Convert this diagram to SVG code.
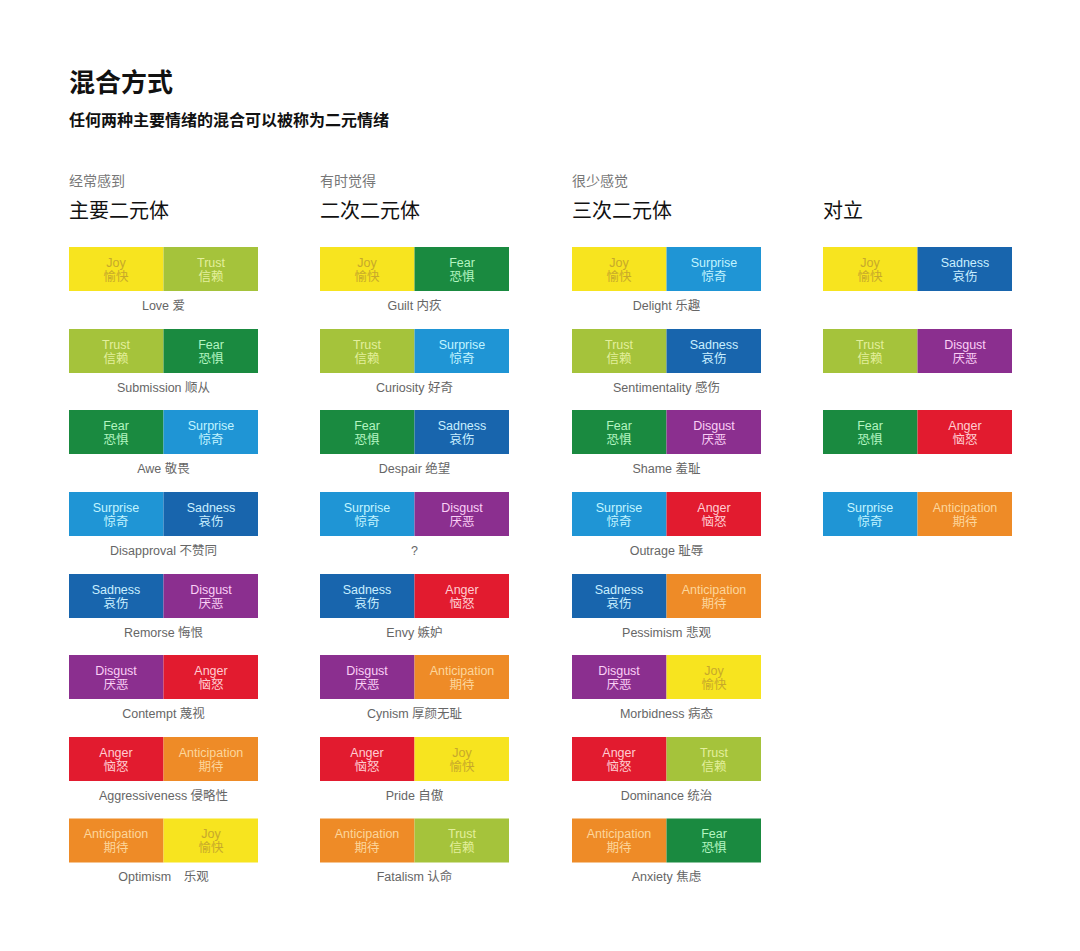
<svg xmlns="http://www.w3.org/2000/svg" width="1080" height="951" viewBox="0 0 1080 951">
<style>
text{font-family:"Liberation Sans","Noto Sans CJK SC",sans-serif}
.title{font-size:26px;font-weight:700;fill:#111}
.sub{font-size:16px;font-weight:700;fill:#111}
.freq{font-size:14px;fill:#777}
.head{font-size:20px;fill:#111}
.t{font-size:12.5px;text-anchor:middle}
.lbl{font-size:12.5px;text-anchor:middle;fill:#666}
.joy{fill:#f7e41f}.trust{fill:#a5c33b}.fear{fill:#1a8a40}.surprise{fill:#1f95d5}
.sadness{fill:#1865ad}.disgust{fill:#8b2f8f}.anger{fill:#e21b2f}.anticipation{fill:#ee8b27}
.joy-t{fill:#c7a92b}.trust-t{fill:#e3ef9c}.fear-t{fill:#b4f5c0}.surprise-t{fill:#c2f4ff}
.sadness-t{fill:#c9efff}.disgust-t{fill:#fbd0f6}.anger-t{fill:#ffcdd2}.anticipation-t{fill:#fcd69c}
</style>
<rect width="1080" height="951" fill="#ffffff"/>
<g id="header">
<text class="title" x="69" y="92">混合方式</text>
<text class="sub" x="69" y="126">任何两种主要情绪的混合可以被称为二元情绪</text>
<text class="freq" x="69" y="186">经常感到</text>
<text class="head" x="69" y="218">主要二元体</text>
<text class="freq" x="320" y="186">有时觉得</text>
<text class="head" x="320" y="218">二次二元体</text>
<text class="freq" x="572" y="186">很少感觉</text>
<text class="head" x="572" y="218">三次二元体</text>
<text class="head" x="823" y="218">对立</text>
</g>

<!-- Column 1 -->
<g id="love" transform="translate(69,247)">
<rect class="joy" width="94.5" height="44"/><rect class="trust" x="94.5" width="94.5" height="44"/>
<text class="t joy-t" x="47" y="19.5">Joy</text><text class="t joy-t" x="47" y="33.5">愉快</text>
<text class="t trust-t" x="142" y="19.5">Trust</text><text class="t trust-t" x="142" y="33.5">信赖</text>
<text class="lbl" x="94.5" y="62.5">Love 爱</text>
</g>
<g id="submission" transform="translate(69,329)">
<rect class="trust" width="94.5" height="44"/><rect class="fear" x="94.5" width="94.5" height="44"/>
<text class="t trust-t" x="47" y="19.5">Trust</text><text class="t trust-t" x="47" y="33.5">信赖</text>
<text class="t fear-t" x="142" y="19.5">Fear</text><text class="t fear-t" x="142" y="33.5">恐惧</text>
<text class="lbl" x="94.5" y="62.5">Submission 顺从</text>
</g>
<g id="awe" transform="translate(69,410)">
<rect class="fear" width="94.5" height="44"/><rect class="surprise" x="94.5" width="94.5" height="44"/>
<text class="t fear-t" x="47" y="19.5">Fear</text><text class="t fear-t" x="47" y="33.5">恐惧</text>
<text class="t surprise-t" x="142" y="19.5">Surprise</text><text class="t surprise-t" x="142" y="33.5">惊奇</text>
<text class="lbl" x="94.5" y="62.5">Awe 敬畏</text>
</g>
<g id="disapproval" transform="translate(69,492)">
<rect class="surprise" width="94.5" height="44"/><rect class="sadness" x="94.5" width="94.5" height="44"/>
<text class="t surprise-t" x="47" y="19.5">Surprise</text><text class="t surprise-t" x="47" y="33.5">惊奇</text>
<text class="t sadness-t" x="142" y="19.5">Sadness</text><text class="t sadness-t" x="142" y="33.5">哀伤</text>
<text class="lbl" x="94.5" y="62.5">Disapproval 不赞同</text>
</g>
<g id="remorse" transform="translate(69,574)">
<rect class="sadness" width="94.5" height="44"/><rect class="disgust" x="94.5" width="94.5" height="44"/>
<text class="t sadness-t" x="47" y="19.5">Sadness</text><text class="t sadness-t" x="47" y="33.5">哀伤</text>
<text class="t disgust-t" x="142" y="19.5">Disgust</text><text class="t disgust-t" x="142" y="33.5">厌恶</text>
<text class="lbl" x="94.5" y="62.5">Remorse 悔恨</text>
</g>
<g id="contempt" transform="translate(69,655)">
<rect class="disgust" width="94.5" height="44"/><rect class="anger" x="94.5" width="94.5" height="44"/>
<text class="t disgust-t" x="47" y="19.5">Disgust</text><text class="t disgust-t" x="47" y="33.5">厌恶</text>
<text class="t anger-t" x="142" y="19.5">Anger</text><text class="t anger-t" x="142" y="33.5">恼怒</text>
<text class="lbl" x="94.5" y="62.5">Contempt 蔑视</text>
</g>
<g id="aggressiveness" transform="translate(69,737)">
<rect class="anger" width="94.5" height="44"/><rect class="anticipation" x="94.5" width="94.5" height="44"/>
<text class="t anger-t" x="47" y="19.5">Anger</text><text class="t anger-t" x="47" y="33.5">恼怒</text>
<text class="t anticipation-t" x="142" y="19.5">Anticipation</text><text class="t anticipation-t" x="142" y="33.5">期待</text>
<text class="lbl" x="94.5" y="62.5">Aggressiveness 侵略性</text>
</g>
<g id="optimism" transform="translate(69,818.5)">
<rect class="anticipation" width="94.5" height="44"/><rect class="joy" x="94.5" width="94.5" height="44"/>
<text class="t anticipation-t" x="47" y="19.5">Anticipation</text><text class="t anticipation-t" x="47" y="33.5">期待</text>
<text class="t joy-t" x="142" y="19.5">Joy</text><text class="t joy-t" x="142" y="33.5">愉快</text>
<text class="lbl" x="94.5" y="62.5" xml:space="preserve">Optimism　乐观</text>
</g>

<!-- Column 2 -->
<g id="guilt" transform="translate(320,247)">
<rect class="joy" width="94.5" height="44"/><rect class="fear" x="94.5" width="94.5" height="44"/>
<text class="t joy-t" x="47" y="19.5">Joy</text><text class="t joy-t" x="47" y="33.5">愉快</text>
<text class="t fear-t" x="142" y="19.5">Fear</text><text class="t fear-t" x="142" y="33.5">恐惧</text>
<text class="lbl" x="94.5" y="62.5">Guilt 内疚</text>
</g>
<g id="curiosity" transform="translate(320,329)">
<rect class="trust" width="94.5" height="44"/><rect class="surprise" x="94.5" width="94.5" height="44"/>
<text class="t trust-t" x="47" y="19.5">Trust</text><text class="t trust-t" x="47" y="33.5">信赖</text>
<text class="t surprise-t" x="142" y="19.5">Surprise</text><text class="t surprise-t" x="142" y="33.5">惊奇</text>
<text class="lbl" x="94.5" y="62.5">Curiosity 好奇</text>
</g>
<g id="despair" transform="translate(320,410)">
<rect class="fear" width="94.5" height="44"/><rect class="sadness" x="94.5" width="94.5" height="44"/>
<text class="t fear-t" x="47" y="19.5">Fear</text><text class="t fear-t" x="47" y="33.5">恐惧</text>
<text class="t sadness-t" x="142" y="19.5">Sadness</text><text class="t sadness-t" x="142" y="33.5">哀伤</text>
<text class="lbl" x="94.5" y="62.5">Despair 绝望</text>
</g>
<g id="unknown" transform="translate(320,492)">
<rect class="surprise" width="94.5" height="44"/><rect class="disgust" x="94.5" width="94.5" height="44"/>
<text class="t surprise-t" x="47" y="19.5">Surprise</text><text class="t surprise-t" x="47" y="33.5">惊奇</text>
<text class="t disgust-t" x="142" y="19.5">Disgust</text><text class="t disgust-t" x="142" y="33.5">厌恶</text>
<text class="lbl" x="94.5" y="62.5">?</text>
</g>
<g id="envy" transform="translate(320,574)">
<rect class="sadness" width="94.5" height="44"/><rect class="anger" x="94.5" width="94.5" height="44"/>
<text class="t sadness-t" x="47" y="19.5">Sadness</text><text class="t sadness-t" x="47" y="33.5">哀伤</text>
<text class="t anger-t" x="142" y="19.5">Anger</text><text class="t anger-t" x="142" y="33.5">恼怒</text>
<text class="lbl" x="94.5" y="62.5">Envy 嫉妒</text>
</g>
<g id="cynism" transform="translate(320,655)">
<rect class="disgust" width="94.5" height="44"/><rect class="anticipation" x="94.5" width="94.5" height="44"/>
<text class="t disgust-t" x="47" y="19.5">Disgust</text><text class="t disgust-t" x="47" y="33.5">厌恶</text>
<text class="t anticipation-t" x="142" y="19.5">Anticipation</text><text class="t anticipation-t" x="142" y="33.5">期待</text>
<text class="lbl" x="94.5" y="62.5">Cynism 厚颜无耻</text>
</g>
<g id="pride" transform="translate(320,737)">
<rect class="anger" width="94.5" height="44"/><rect class="joy" x="94.5" width="94.5" height="44"/>
<text class="t anger-t" x="47" y="19.5">Anger</text><text class="t anger-t" x="47" y="33.5">恼怒</text>
<text class="t joy-t" x="142" y="19.5">Joy</text><text class="t joy-t" x="142" y="33.5">愉快</text>
<text class="lbl" x="94.5" y="62.5">Pride 自傲</text>
</g>
<g id="fatalism" transform="translate(320,818.5)">
<rect class="anticipation" width="94.5" height="44"/><rect class="trust" x="94.5" width="94.5" height="44"/>
<text class="t anticipation-t" x="47" y="19.5">Anticipation</text><text class="t anticipation-t" x="47" y="33.5">期待</text>
<text class="t trust-t" x="142" y="19.5">Trust</text><text class="t trust-t" x="142" y="33.5">信赖</text>
<text class="lbl" x="94.5" y="62.5">Fatalism 认命</text>
</g>

<!-- Column 3 -->
<g id="delight" transform="translate(572,247)">
<rect class="joy" width="94.5" height="44"/><rect class="surprise" x="94.5" width="94.5" height="44"/>
<text class="t joy-t" x="47" y="19.5">Joy</text><text class="t joy-t" x="47" y="33.5">愉快</text>
<text class="t surprise-t" x="142" y="19.5">Surprise</text><text class="t surprise-t" x="142" y="33.5">惊奇</text>
<text class="lbl" x="94.5" y="62.5">Delight 乐趣</text>
</g>
<g id="sentimentality" transform="translate(572,329)">
<rect class="trust" width="94.5" height="44"/><rect class="sadness" x="94.5" width="94.5" height="44"/>
<text class="t trust-t" x="47" y="19.5">Trust</text><text class="t trust-t" x="47" y="33.5">信赖</text>
<text class="t sadness-t" x="142" y="19.5">Sadness</text><text class="t sadness-t" x="142" y="33.5">哀伤</text>
<text class="lbl" x="94.5" y="62.5">Sentimentality 感伤</text>
</g>
<g id="shame" transform="translate(572,410)">
<rect class="fear" width="94.5" height="44"/><rect class="disgust" x="94.5" width="94.5" height="44"/>
<text class="t fear-t" x="47" y="19.5">Fear</text><text class="t fear-t" x="47" y="33.5">恐惧</text>
<text class="t disgust-t" x="142" y="19.5">Disgust</text><text class="t disgust-t" x="142" y="33.5">厌恶</text>
<text class="lbl" x="94.5" y="62.5">Shame 羞耻</text>
</g>
<g id="outrage" transform="translate(572,492)">
<rect class="surprise" width="94.5" height="44"/><rect class="anger" x="94.5" width="94.5" height="44"/>
<text class="t surprise-t" x="47" y="19.5">Surprise</text><text class="t surprise-t" x="47" y="33.5">惊奇</text>
<text class="t anger-t" x="142" y="19.5">Anger</text><text class="t anger-t" x="142" y="33.5">恼怒</text>
<text class="lbl" x="94.5" y="62.5">Outrage 耻辱</text>
</g>
<g id="pessimism" transform="translate(572,574)">
<rect class="sadness" width="94.5" height="44"/><rect class="anticipation" x="94.5" width="94.5" height="44"/>
<text class="t sadness-t" x="47" y="19.5">Sadness</text><text class="t sadness-t" x="47" y="33.5">哀伤</text>
<text class="t anticipation-t" x="142" y="19.5">Anticipation</text><text class="t anticipation-t" x="142" y="33.5">期待</text>
<text class="lbl" x="94.5" y="62.5">Pessimism 悲观</text>
</g>
<g id="morbidness" transform="translate(572,655)">
<rect class="disgust" width="94.5" height="44"/><rect class="joy" x="94.5" width="94.5" height="44"/>
<text class="t disgust-t" x="47" y="19.5">Disgust</text><text class="t disgust-t" x="47" y="33.5">厌恶</text>
<text class="t joy-t" x="142" y="19.5">Joy</text><text class="t joy-t" x="142" y="33.5">愉快</text>
<text class="lbl" x="94.5" y="62.5">Morbidness 病态</text>
</g>
<g id="dominance" transform="translate(572,737)">
<rect class="anger" width="94.5" height="44"/><rect class="trust" x="94.5" width="94.5" height="44"/>
<text class="t anger-t" x="47" y="19.5">Anger</text><text class="t anger-t" x="47" y="33.5">恼怒</text>
<text class="t trust-t" x="142" y="19.5">Trust</text><text class="t trust-t" x="142" y="33.5">信赖</text>
<text class="lbl" x="94.5" y="62.5">Dominance 统治</text>
</g>
<g id="anxiety" transform="translate(572,818.5)">
<rect class="anticipation" width="94.5" height="44"/><rect class="fear" x="94.5" width="94.5" height="44"/>
<text class="t anticipation-t" x="47" y="19.5">Anticipation</text><text class="t anticipation-t" x="47" y="33.5">期待</text>
<text class="t fear-t" x="142" y="19.5">Fear</text><text class="t fear-t" x="142" y="33.5">恐惧</text>
<text class="lbl" x="94.5" y="62.5">Anxiety 焦虑</text>
</g>

<!-- Column 4 -->
<g id="opp-joy-sadness" transform="translate(823,247)">
<rect class="joy" width="94.5" height="44"/><rect class="sadness" x="94.5" width="94.5" height="44"/>
<text class="t joy-t" x="47" y="19.5">Joy</text><text class="t joy-t" x="47" y="33.5">愉快</text>
<text class="t sadness-t" x="142" y="19.5">Sadness</text><text class="t sadness-t" x="142" y="33.5">哀伤</text>
</g>
<g id="opp-trust-disgust" transform="translate(823,329)">
<rect class="trust" width="94.5" height="44"/><rect class="disgust" x="94.5" width="94.5" height="44"/>
<text class="t trust-t" x="47" y="19.5">Trust</text><text class="t trust-t" x="47" y="33.5">信赖</text>
<text class="t disgust-t" x="142" y="19.5">Disgust</text><text class="t disgust-t" x="142" y="33.5">厌恶</text>
</g>
<g id="opp-fear-anger" transform="translate(823,410)">
<rect class="fear" width="94.5" height="44"/><rect class="anger" x="94.5" width="94.5" height="44"/>
<text class="t fear-t" x="47" y="19.5">Fear</text><text class="t fear-t" x="47" y="33.5">恐惧</text>
<text class="t anger-t" x="142" y="19.5">Anger</text><text class="t anger-t" x="142" y="33.5">恼怒</text>
</g>
<g id="opp-surprise-anticipation" transform="translate(823,492)">
<rect class="surprise" width="94.5" height="44"/><rect class="anticipation" x="94.5" width="94.5" height="44"/>
<text class="t surprise-t" x="47" y="19.5">Surprise</text><text class="t surprise-t" x="47" y="33.5">惊奇</text>
<text class="t anticipation-t" x="142" y="19.5">Anticipation</text><text class="t anticipation-t" x="142" y="33.5">期待</text>
</g>
</svg>
